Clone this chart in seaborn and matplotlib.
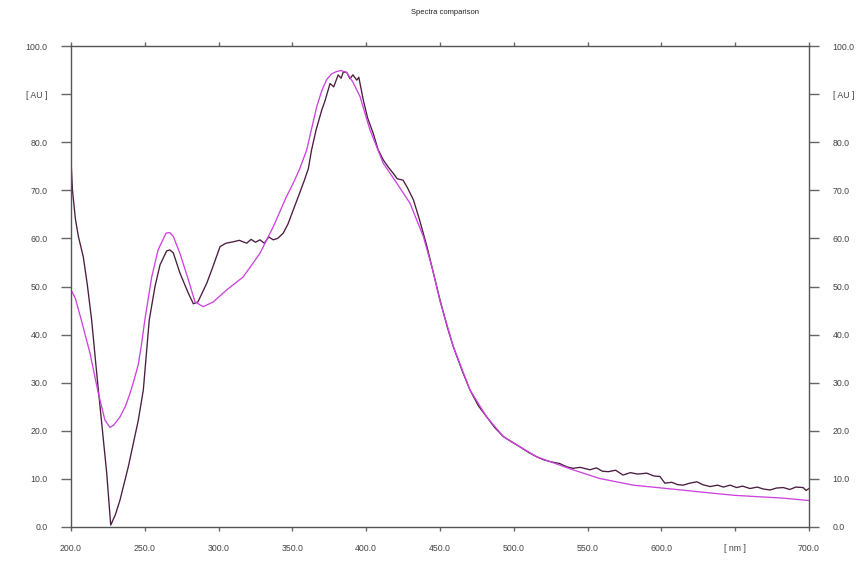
import pandas as pd
import matplotlib
matplotlib.use("Agg")
import matplotlib.pyplot as plt
import seaborn as sns

# sample spectrum (dark trace)
sample_nm = [200, 201, 203, 205, 208.3, 211, 214, 217.4, 220.8, 224.2, 226.9,
             230, 233.2, 238.8, 245.6, 249, 253, 256.9, 260.3, 264.8, 267, 269.3,
             273.8, 279.5, 282.9, 286, 292, 296, 301, 305, 310, 314, 319, 322, 325,
             328, 331, 334, 337, 340, 343.8, 347, 350.6, 355, 358, 360.8, 363, 366,
             369.9, 372, 375.5, 378, 381, 383, 384.5, 386.8, 389, 391, 393.6, 395,
             398, 401, 404.8, 408, 411.6, 415, 418.4, 421, 425, 428, 432, 436, 441,
             445, 450, 455, 459, 465, 470.3, 476, 481.6, 487, 492.9, 498, 504,
             510, 515.5, 520, 524.5, 531, 536, 540, 545, 551.6, 556, 560, 564,
             569, 574, 579, 584, 590, 595, 599, 602.4, 607, 611, 614.8, 619, 624,
             628, 633, 638, 642, 646.5, 651, 655, 660, 665, 669, 673.6, 678, 682.6,
             687, 691, 696, 698, 700]
sample_au = [76.3, 70.0, 64.0, 60.4, 56.2, 50.5, 43.0, 32.0, 21.6, 11.2, 0.4,
             2.5, 5.6, 12.5, 22.2, 28.5, 43.0, 50.0, 54.5, 57.4, 57.6, 57.0,
             52.8, 48.6, 46.4, 46.8, 50.7, 54.0, 58.3, 59.0, 59.3, 59.6, 59.0, 59.8, 59.2,
             59.7, 59.0, 60.3, 59.7, 60.0, 61.1, 63.0, 65.9, 69.5, 72.0, 74.5, 78.4,
             82.5, 86.7, 88.5, 92.2, 91.5, 94.0, 93.3, 94.6, 94.5, 93.2, 94.0, 92.9,
             93.5, 88.8, 85.0, 81.8, 78.5, 76.3, 74.8, 73.5, 72.4, 72.1, 70.5, 68.0,
             64.0, 58.5, 53.5, 47.2, 41.5, 37.5, 32.5, 28.5, 25.2, 22.9, 20.7, 18.8,
             17.8, 16.7, 15.5, 14.6, 14.0, 13.6, 13.2, 12.5, 12.2, 12.4, 11.9, 12.3,
             11.6, 11.5, 11.8, 10.8, 11.3, 11.0, 11.2, 10.6, 10.5, 9.1, 9.3, 8.8,
             8.7, 9.1, 9.4, 8.8, 8.4, 8.7, 8.3, 8.7, 8.2, 8.5, 8.0, 8.3, 7.9, 7.7,
             8.1, 8.2, 7.8, 8.3, 8.2, 7.6, 8.0]

# reference spectrum (magenta trace)
ref_nm = [200, 203, 207, 212.9, 218.5, 223, 226.4, 229, 233.2, 237, 240, 242.5,
          245.6, 247.8, 250, 254.7, 259, 264.4, 267, 269.3, 273.8, 279.5, 284,
          289.6, 296.4, 305.5, 316.7, 328, 337, 346, 350.6, 355, 359.7, 363,
          366.5, 370, 373.2, 376.5, 380, 383, 386.8, 391, 395.8, 402.6, 411.6,
          420.7, 429.7, 438.7, 445, 450, 459, 470.3, 481.6, 492.9, 504, 515.5,
          524.5, 540, 558, 581, 603.6, 626, 648.7, 671, 682.6, 700]
ref_au = [49.3, 47.5, 43.0, 36.1, 27.8, 22.2, 20.7, 21.2, 22.9, 25.2, 27.8, 30.3,
          33.8, 38.0, 43.0, 52.0, 57.6, 61.1, 61.2, 60.4, 56.9, 51.4, 46.8,
          45.8, 46.8, 49.3, 52.0, 56.9, 62.4, 68.7, 71.5, 74.5, 78.4, 82.8,
          87.4, 90.8, 93.0, 94.2, 94.7, 94.9, 94.5, 92.5, 89.5, 82.5, 75.6,
          71.5, 67.3, 60.4, 53.5, 47.0, 37.5, 28.5, 22.9, 18.8, 16.7, 14.6,
          13.6, 11.9, 10.1, 8.7, 8.0, 7.3, 6.6, 6.2, 6.0, 5.5]

x_ticks = [200, 250, 300, 350, 400, 450, 500, 550, 600, 650, 700]
x_labels = ["200.0", "250.0", "300.0", "350.0", "400.0", "450.0", "500.0",
            "550.0", "600.0", "[ nm ]", "700.0"]
y_ticks = [0, 10, 20, 30, 40, 50, 60, 70, 80, 90, 100]
y_labels = ["0.0", "10.0", "20.0", "30.0", "40.0", "50.0", "60.0", "70.0",
            "80.0", "[ AU ]", "100.0"]

df = pd.concat([
    pd.DataFrame({"nm": sample_nm, "au": sample_au, "trace": "sample"}),
    pd.DataFrame({"nm": ref_nm, "au": ref_au, "trace": "reference"}),
], ignore_index=True)

sns.set_style("white")
plt.rcParams["font.family"] = ["Liberation Sans", "DejaVu Sans"]

fig = plt.figure(figsize=(8.59, 5.61), dpi=100)
ax = fig.add_axes([71 / 859, 1 - 527 / 561, 738 / 859, 481 / 561])

sns.lineplot(data=df, x="nm", y="au", hue="trace", sort=False, estimator=None,
             palette={"sample": "#4a1c40", "reference": "#cc44dd"},
             linewidth=0.95, legend=False, ax=ax)

ax.set_xlim(200, 700)
ax.set_ylim(0, 100)
ax.set_xlabel("")
ax.set_ylabel("")
ax.set_xticks(x_ticks)
ax.set_xticklabels(x_labels)
ax.set_yticks(y_ticks)
ax.set_yticklabels(y_labels)

for side in ["left", "right", "top", "bottom"]:
    ax.spines[side].set_color("#555555")
    ax.spines[side].set_linewidth(1.0)

ax.tick_params(axis="y", which="both", direction="out", length=7, width=1,
               color="#666666", labelsize=6.3, labelcolor="#444444", pad=10,
               left=True, right=True, labelleft=True, labelright=True)
ax.tick_params(axis="x", which="both", direction="out", length=3, width=1,
               color="#666666", labelsize=6.3, labelcolor="#444444", pad=9,
               bottom=True, top=True, labelbottom=True, labeltop=False)

fig.text(445 / 859, 1 - 13 / 561, "Spectra comparison", ha="center", va="center",
         fontsize=5.5, color="#222222")

fig.savefig("out.png", dpi=100)
